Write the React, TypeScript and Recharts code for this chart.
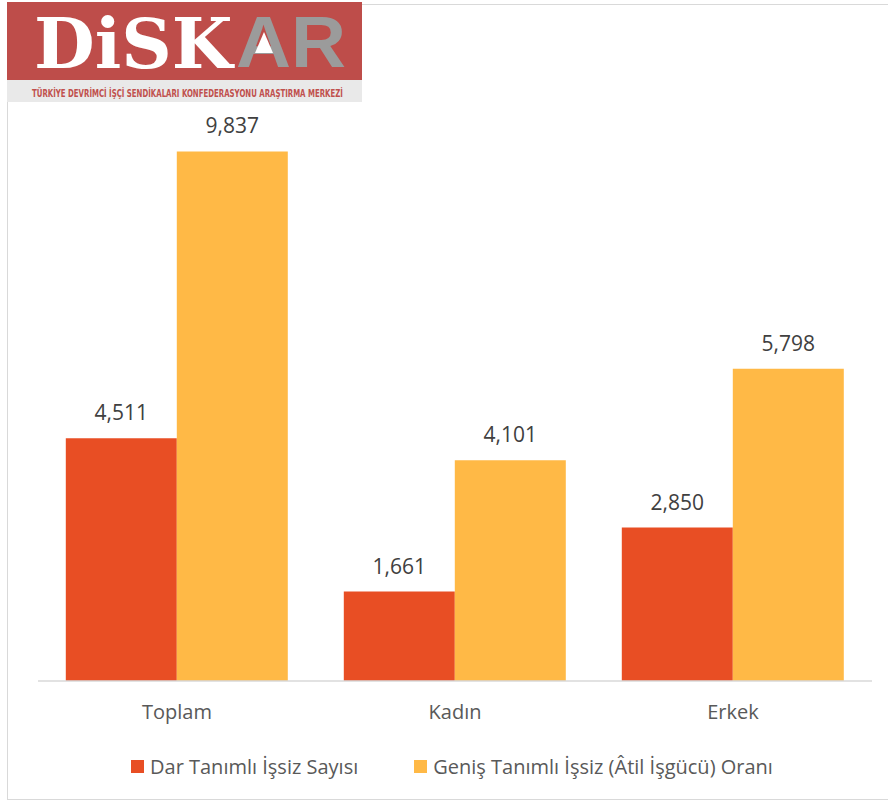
import React from 'react';
import { BarChart, Bar, XAxis, YAxis, LabelList } from 'recharts';

const categories = ['Toplam', 'Kadın', 'Erkek'];
const darValues = [4511, 1661, 2850];
const genisValues = [9837, 4101, 5798];
const seriesNames = ['Dar Tanımlı İşsiz Sayısı', 'Geniş Tanımlı İşsiz (Âtil İşgücü) Oranı'];
const seriesColors = ['#E84E24', '#FFB946'];

const data = categories.map((name, i) => ({ name, dar: darValues[i], genis: genisValues[i] }));

const fmt = (v: any) => Number(v).toLocaleString('en-US');

const FONT = '"Open Sans", sans-serif';

const Logo: React.FC = () => (
  <svg width={356} height={104} style={{ position: 'absolute', left: 7, top: 0 }}>
    <rect x={0} y={2} width={355} height={78} fill="#BE4D4A" />
    <rect x={0} y={80} width={355} height={22} fill="#E9E9E9" />
    <text x={27} y={68} fill="#fff" fontFamily='"DejaVu Serif", serif' fontWeight="bold" fontSize={70}>DiSK</text>
    <text x={229} y={67} fill="#9B9B9B" fontFamily='"Liberation Sans", sans-serif' fontWeight="bold" fontSize={72}
      textLength={110} lengthAdjust="spacingAndGlyphs">AR</text>
    <polygon points="257,32 248,53 266,53" fill="#fff" />
    <text transform="translate(25,97) scale(0.74,1)" fill="#C0504D"
      fontFamily='"DejaVu Sans Condensed", "DejaVu Sans", sans-serif' fontWeight="bold" fontSize={10.5}>
      TÜRKİYE DEVRİMCİ İŞÇİ SENDİKALARI KONFEDERASYONU ARAŞTIRMA MERKEZİ
    </text>
  </svg>
);

const App: React.FC = () => {
  return (
    <div style={{ position: 'relative', width: 890, height: 804, background: '#fff', fontFamily: FONT }}>
      <style>{'body{margin:0}'}</style>
      <div style={{
        position: 'absolute', left: 7, top: 4, width: 881, height: 796,
        borderTop: '1.5px solid #D9D9D9', borderLeft: '1.5px solid #D9D9D9', borderBottom: '1.5px solid #D9D9D9',
        boxSizing: 'border-box',
      }} />
      <div style={{ position: 'absolute', left: 0, top: 0 }}>
        <BarChart width={890} height={804} data={data}
          margin={{ top: 35, right: 18, left: 38, bottom: 83 }}
          barCategoryGap="10%" barGap={0}>
          <XAxis dataKey="name" height={40} tickLine={false} tickMargin={18}
            axisLine={{ stroke: '#D9D9D9', strokeWidth: 1.5 }}
            tick={{ fontSize: 20, fill: '#595959', fontFamily: FONT }} />
          <YAxis hide domain={[0, 12000]} />
          <Bar dataKey="dar" name={seriesNames[0]} fill={seriesColors[0]} isAnimationActive={false}>
            <LabelList dataKey="dar" position="top" offset={18} formatter={fmt}
              fill="#404040" fontSize={21} fontFamily={FONT} />
          </Bar>
          <Bar dataKey="genis" name={seriesNames[1]} fill={seriesColors[1]} isAnimationActive={false}>
            <LabelList dataKey="genis" position="top" offset={18} formatter={fmt}
              fill="#404040" fontSize={21} fontFamily={FONT} />
          </Bar>
        </BarChart>
      </div>
      <Logo />
      <div style={{ position: 'absolute', left: 131, top: 753, display: 'flex', alignItems: 'center', fontSize: 20, color: '#595959', whiteSpace: 'nowrap' }}>
        {seriesNames.map((n, i) => (
          <div key={n} style={{ display: 'flex', alignItems: 'center', marginRight: i === 0 ? 56 : 0 }}>
            <span style={{ display: 'inline-block', width: 13, height: 13, background: seriesColors[i], marginRight: 6 }} />
            <span>{n}</span>
          </div>
        ))}
      </div>
    </div>
  );
};

export default App;
